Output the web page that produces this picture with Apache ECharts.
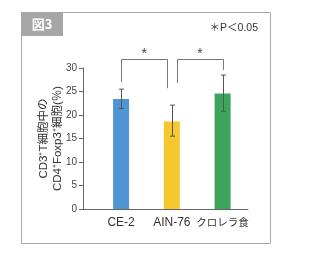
<!DOCTYPE html>
<html><head><meta charset="utf-8">
<script src="https://cdn.jsdelivr.net/npm/echarts@6/dist/echarts.min.js"></script>
<style>html,body{margin:0;padding:0;background:#fff}#c{width:320px;height:264px}</style>
</head><body><div id="c"></div>
<script>
var categories = ['CE-2', 'AIN-76', 'クロレラ食'];
var positions = [1, 2, 3];
var means = [23.4, 18.6, 24.6];
var errUpper = [25.5, 22.1, 28.5];
var errLower = [21.4, 15.5, 20.8];
var colors = ['#4f95d4', '#f6c72f', '#3ca55c'];
var yTicks = [0, 5, 10, 15, 20, 25, 30];
// brackets: [xLeft, yLeftEnd, xRight, yRightEnd, yTop, yStar]
var brackets = [
  [1.0, 27.0, 1.91, 25.7, 31.9, 33.4],
  [2.11, 26.8, 3.0, 29.6, 31.9, 33.4]
];
var FONT = "'Liberation Sans','Noto Sans CJK JP',sans-serif";

var chart = echarts.init(document.getElementById('c'), null, {renderer: 'canvas'});
chart.setOption({
  backgroundColor: '#fff',
  animation: false,
  textStyle: {fontFamily: FONT},
  grid: {left: 83, top: 68, width: 165, height: 141, containLabel: false},
  graphic: [
    {type: 'rect', shape: {x: 21.5, y: 12.5, width: 249, height: 231}, style: {fill: 'none', stroke: '#a9a9a9', lineWidth: 1}},
    {type: 'rect', shape: {x: 21, y: 12, width: 42, height: 24}, style: {fill: '#a6a6a6'}},
    {type: 'text', x: 42, y: 24, style: {text: '図3', fill: '#fff', font: "bold 13px 'Noto Sans CJK JP',sans-serif", align: 'center', verticalAlign: 'middle'}},
    {type: 'text', x: 258, y: 28, style: {text: '＊P＜0.05', fill: '#333', font: "10.5px 'Liberation Sans','Noto Sans CJK JP',sans-serif", align: 'right', verticalAlign: 'middle'}}
  ],
  xAxis: {
    type: 'value', min: 0.25, max: 3.5,
    splitLine: {show: false},
    axisLine: {show: true, lineStyle: {color: '#666', width: 1}},
    axisTick: {show: false},
    axisLabel: {
      customValues: positions,
      margin: 8,
      fontSize: 12, color: '#333',
      formatter: function (v) {
        var i = positions.indexOf(v);
        if (i < 0) return '';
        return /[^\x00-\x7f]/.test(categories[i]) ? '{j|' + categories[i] + '}' : categories[i];
      },
      rich: {j: {fontSize: 10.5, color: '#333', fontFamily: "'Noto Sans CJK JP',sans-serif"}}
    }
  },
  yAxis: {
    type: 'value', min: 0, max: 30, interval: 5,
    splitLine: {show: false},
    axisLine: {show: true, lineStyle: {color: '#666', width: 1}},
    axisTick: {show: true, length: 4, lineStyle: {color: '#666'}},
    axisLabel: {fontSize: 10, color: '#444', margin: 6, customValues: yTicks},
    name: 'CD3⁺T細胞中の\nCD4⁺Foxp3⁺細胞(％)',
    nameLocation: 'middle', nameGap: 18, nameRotate: 90, nameMoveOverlap: false,
    nameTextStyle: {fontSize: 11.5, color: '#333', lineHeight: 14, fontFamily: FONT}
  },
  series: [
    {
      type: 'bar', barWidth: 16,
      data: positions.map(function (p, i) { return {value: [p, means[i]], itemStyle: {color: colors[i]}}; })
    },
    {
      type: 'custom', z: 5,
      data: positions.map(function (p, i) { return [p, errLower[i], errUpper[i]]; }),
      renderItem: function (params, api) {
        var lo = api.coord([api.value(0), api.value(1)]);
        var hi = api.coord([api.value(0), api.value(2)]);
        var st = {stroke: '#555', lineWidth: 1};
        var x = Math.round(lo[0]) + 0.5;
        return {type: 'group', children: [
          {type: 'line', shape: {x1: x, y1: lo[1], x2: x, y2: hi[1]}, style: st},
          {type: 'line', shape: {x1: x - 2.5, y1: lo[1], x2: x + 2.5, y2: lo[1]}, style: st},
          {type: 'line', shape: {x1: x - 2.5, y1: hi[1], x2: x + 2.5, y2: hi[1]}, style: st}
        ]};
      }
    },
    {
      type: 'custom', z: 5, clip: false,
      data: brackets,
      renderItem: function (params, api) {
        var a = api.coord([api.value(0), api.value(1)]);
        var b = api.coord([api.value(0), api.value(4)]);
        var c = api.coord([api.value(2), api.value(4)]);
        var d = api.coord([api.value(2), api.value(3)]);
        var s = api.coord([(api.value(0) + api.value(2)) / 2, api.value(5)]);
        return {type: 'group', children: [
          {type: 'polyline', shape: {points: [[Math.round(a[0]) + 0.5, a[1]], [Math.round(b[0]) + 0.5, Math.round(b[1]) + 0.5], [Math.round(c[0]) + 0.5, Math.round(c[1]) + 0.5], [Math.round(d[0]) + 0.5, d[1]]]}, style: {stroke: '#777', lineWidth: 1, fill: 'none'}},
          {type: 'text', x: s[0], y: s[1] + 2, style: {text: '*', fill: '#444', font: "14px 'Liberation Sans',sans-serif", align: 'center', verticalAlign: 'middle'}}
        ]};
      }
    }
  ]
});
</script></body></html>
